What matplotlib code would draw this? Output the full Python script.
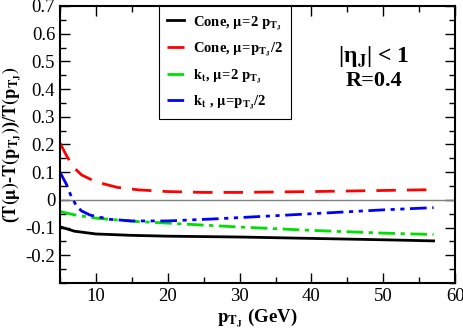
import matplotlib
matplotlib.use('Agg')
import matplotlib.pyplot as plt
from matplotlib.ticker import MultipleLocator

plt.rcParams['font.family'] = ['Liberation Serif', 'DejaVu Serif']
plt.rcParams['mathtext.fontset'] = 'stix'

# data
pt_black = [5, 7, 10, 15, 20, 30, 40, 50, 57]
cone_2mu = [-0.097, -0.113, -0.123, -0.128, -0.131, -0.134, -0.139, -0.144, -0.148]

pt_red = [5, 6, 7, 8, 10, 13, 16, 20, 25, 30, 40, 50, 57]
cone_half = [0.205, 0.155, 0.115, 0.09, 0.065, 0.045, 0.036, 0.03, 0.027, 0.027, 0.03, 0.034, 0.037]

pt_green = [5, 7, 10, 15, 20, 30, 40, 50, 57]
kt_2mu = [-0.042, -0.054, -0.066, -0.077, -0.084, -0.098, -0.11, -0.12, -0.125]

pt_blue = [5, 5.9, 6.6, 7.3, 8, 9.2, 11.9, 15, 20, 27, 35, 40, 50, 57]
kt_half = [0.1, 0.056, 0.01, -0.022, -0.04, -0.055, -0.07, -0.076, -0.076, -0.068, -0.057, -0.05, -0.036, -0.028]

labels = [r'Cone, $\mathbf{\mu}$=2 $\mathbf{p_{T_J}}$',
          r'Cone, $\mathbf{\mu}$=$\mathbf{p_{T_J}}$/2',
          r'$\mathbf{k_t}$, $\mathbf{\mu}$=2 $\mathbf{p_{T_J}}$',
          r'$\mathbf{k_t}$ , $\mathbf{\mu}$=$\mathbf{p_{T_J}}$/2']

fig = plt.figure(figsize=(4.63, 3.30), dpi=100)
ax = fig.add_axes([0.1296, 0.1424, 0.8534, 0.8396])

ax.axhline(0, color='#808080', lw=1.0)
ax.plot(pt_black, cone_2mu, color='black', lw=2, label=labels[0])
ax.plot(pt_red, cone_half, color='red', lw=2, dashes=(7, 4), label=labels[1])
ax.plot(pt_green, kt_2mu, color='#00e000', lw=2, dashes=(6, 2, 1.5, 2), label=labels[2])
ax.plot(pt_blue, kt_half, color='blue', lw=2, dashes=(6, 2, 1.5, 2, 1.5, 2), label=labels[3])

ax.set_xlim(5, 60)
ax.set_ylim(-0.3, 0.7)
ax.set_xticks([10, 20, 30, 40, 50, 60])
ax.set_yticks([-0.2, -0.1, 0, 0.1, 0.2, 0.3, 0.4, 0.5, 0.6, 0.7])
ax.set_yticklabels(['-0.2', '-0.1', '0', '0.1', '0.2', '0.3', '0.4', '0.5', '0.6', '0.7'])
ax.xaxis.set_minor_locator(MultipleLocator(5))
ax.yaxis.set_minor_locator(MultipleLocator(0.05))
ax.tick_params(which='both', direction='in', top=True, right=True, labelsize=13.5)
ax.tick_params(which='major', length=7, width=1)
ax.tick_params(which='minor', length=4, width=1)
for s in ax.spines.values():
    s.set_linewidth(1.5)

ax.set_xlabel(r'$\mathbf{p_{T_J}}$ (GeV)', fontsize=13.5, fontweight='bold', labelpad=1)
ax.set_ylabel(r'($\mathbf{T(\mu)}$-$\mathbf{T(p_{T_J})}$)/$\mathbf{T(p_{T_J})}$',
              fontsize=13, fontweight='bold', labelpad=2)

leg = ax.legend(loc='upper left', bbox_to_anchor=(0.2495, 1.0), fancybox=False,
                edgecolor='black', framealpha=1, handlelength=1.2, handletextpad=0.6,
                prop={'weight': 'bold', 'size': 10.5}, labelspacing=0.6,
                borderaxespad=0, borderpad=0.55)
leg.get_frame().set_linewidth(0.8)

ax.text(0.795, 0.815, r'|η$_\mathbf{J}$| < 1', transform=ax.transAxes,
        ha='center', va='center', fontsize=17, fontweight='bold')
ax.text(0.795, 0.73, 'R=0.4', transform=ax.transAxes,
        ha='center', va='center', fontsize=16, fontweight='bold')

fig.savefig('out.png', dpi=100)
